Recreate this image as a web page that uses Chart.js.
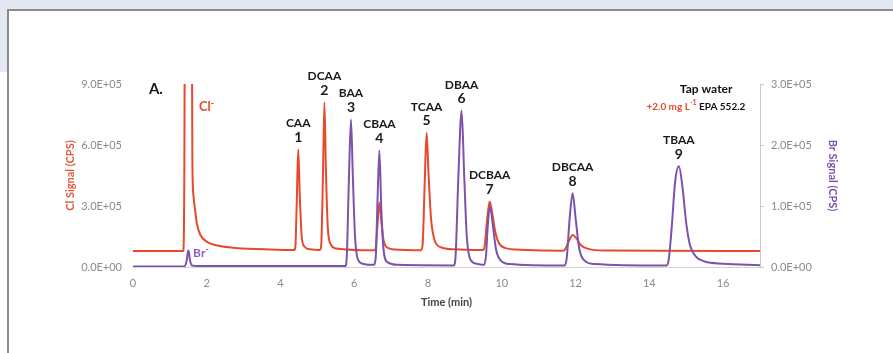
<!DOCTYPE html>
<html>
<head>
<meta charset="utf-8">
<script src="https://cdn.jsdelivr.net/npm/chart.js@4.4.1/dist/chart.umd.min.js"></script>
<style>
  html, body { margin: 0; padding: 0; background: #fff; }
  #wrap { position: relative; width: 893px; height: 353px; overflow: hidden; }
  .bg-top { position: absolute; left: 0; top: 0; width: 893px; height: 10px; background: #e4e8f3; }
  .bg-left { position: absolute; left: 0; top: 0; width: 8px; height: 72px; background: #e4e8f3; }
  .frame { position: absolute; left: 7px; top: 9px; width: 900px; height: 400px;
           border-left: 2px solid #8a8a8a; border-top: 2px solid #8a8a8a; background: #fff; }
  #myChart { position: absolute; left: 0; top: 0; }
</style>
</head>
<body>
<div id="wrap">
  <div class="bg-top"></div>
  <div class="bg-left"></div>
  <div class="frame"></div>
  <canvas id="myChart" width="893" height="353"></canvas>
</div>
<script>
// Cl signal (left axis, CPS)
var clTime = [0, 1.36, 1.39, 1.42, 1.58, 1.61, 1.64, 1.68, 1.73, 1.82, 2.0, 2.36, 2.8, 3.7, 4.36,
    4.4, 4.44, 4.48, 4.52, 4.57, 4.64, 4.8, 5.06,
    5.1, 5.15, 5.19, 5.23, 5.28, 5.36, 5.5, 6.54,
    6.58, 6.63, 6.68, 6.73, 6.79, 6.88, 7.1, 7.8,
    7.85, 7.91, 7.96, 8.01, 8.08, 8.18, 8.35, 8.7, 9.48,
    9.53, 9.6, 9.67, 9.74, 9.82, 9.92, 10.1, 10.5, 11.66,
    11.72, 11.82, 11.92, 12.02, 12.14, 12.35, 12.8, 17];
var clSignal = [79000, 79000, 400000, 2000000, 2000000, 520000, 350000, 285000, 215000, 160000, 125000, 103000, 94000, 86000, 83000,
    95000, 320000, 578000, 360000, 160000, 102000, 87000, 83000,
    100000, 450000, 809000, 480000, 200000, 112000, 91000, 82000,
    92000, 210000, 317000, 230000, 135000, 97000, 86000, 82000,
    105000, 420000, 660000, 470000, 240000, 130000, 97000, 87000, 83000,
    98000, 230000, 322000, 265000, 175000, 118000, 93000, 85000, 80000,
    88000, 128000, 157000, 142000, 108000, 89000, 81000, 79000];

// Br signal (right axis, CPS)
var brTime = [0, 1.4, 1.45, 1.5, 1.55, 1.6, 1.8, 5.76,
    5.8, 5.85, 5.91, 5.96, 6.02, 6.1, 6.25, 6.52,
    6.58, 6.63, 6.68, 6.73, 6.79, 6.9, 7.2, 8.7,
    8.75, 8.82, 8.91, 8.98, 9.05, 9.15, 9.35, 9.52,
    9.57, 9.62, 9.68, 9.75, 9.84, 9.95, 10.2, 11.7,
    11.76, 11.84, 11.92, 12.0, 12.1, 12.25, 12.5, 14.46,
    14.52, 14.6, 14.7, 14.8, 14.9, 15.0, 15.1, 15.25, 15.5, 16.0, 17];
var brSignal = [1000, 1000, 9000, 27500, 10000, 2500, 1500, 1500,
    22000, 135000, 242000, 150000, 50000, 12000, 5000, 3500,
    15000, 110000, 191000, 100000, 30000, 8000, 3500, 2500,
    22000, 145000, 256000, 150000, 50000, 12000, 5000, 3500,
    18000, 68000, 100000, 72000, 30000, 12000, 5000, 2500,
    15000, 80000, 121000, 80000, 30000, 10000, 5000, 2500,
    10000, 60000, 140000, 165000, 130000, 72000, 36000, 18000, 9000, 5500, 3000];

var peakNames = ['CAA', 'DCAA', 'BAA', 'CBAA', 'TCAA', 'DBAA', 'DCBAA', 'DBCAA', 'TBAA'];
var peakNumbers = ['1', '2', '3', '4', '5', '6', '7', '8', '9'];
var peakTimes = [4.48, 5.19, 5.91, 6.68, 7.96, 8.91, 9.67, 11.92, 14.8];

var xTicks = [0, 2, 4, 6, 8, 10, 12, 14, 16];
var clTicks = [0, 300000, 600000, 900000];
var clTickLabels = ['0.0E+00', '3.0E+05', '6.0E+05', '9.0E+05'];
var brTicks = [0, 100000, 200000, 300000];
var brTickLabels = ['0.0E+00', '1.0E+05', '2.0E+05', '3.0E+05'];

var FONT = 'Lato';
var RED = '#e8492e';
var PURPLE = '#7d52ad';

function toPoints(xs, ys) {
    return xs.map(function (x, i) { return { x: x, y: ys[i] }; });
}

// highest pixel of any trace around a retention time
function peakTopPixel(chart, t) {
    var best = Infinity;
    chart.data.datasets.forEach(function (ds) {
        var scale = chart.scales[ds.yAxisID];
        ds.data.forEach(function (p) {
            if (Math.abs(p.x - t) <= 0.06) {
                best = Math.min(best, scale.getPixelForValue(p.y));
            }
        });
    });
    return best;
}

function drawSup(ctx, parts, x, y) {
    // parts: [text, color, size, raise]
    parts.forEach(function (p) {
        ctx.font = 'bold ' + p[2] + 'px ' + FONT;
        ctx.fillStyle = p[1];
        ctx.fillText(p[0], x, y - p[3]);
        x += ctx.measureText(p[0]).width;
    });
}

var labelsPlugin = {
    id: 'peakLabels',
    afterDatasetsDraw: function (chart) {
        var ctx = chart.ctx;
        var xs = chart.scales.x, yl = chart.scales.yCl, yr = chart.scales.yBr;
        ctx.save();
        ctx.textAlign = 'center';
        ctx.textBaseline = 'middle';
        ctx.fillStyle = '#1a1a1a';
        for (var i = 0; i < peakNames.length; i++) {
            var top = peakTopPixel(chart, peakTimes[i]);
            var x = xs.getPixelForValue(peakTimes[i]);
            ctx.font = 'bold 14px ' + FONT;
            ctx.fillText(peakNumbers[i], x, top - 12);
            ctx.font = 'bold 12px ' + FONT;
            ctx.fillText(peakNames[i], x, top - 26);
        }

        // panel letter
        ctx.font = 'bold 15px ' + FONT;
        ctx.fillText('A.', xs.getPixelForValue(0.62), yl.getPixelForValue(875000));

        ctx.textAlign = 'left';
        drawSup(ctx, [['Cl', RED, 13, 0], ['-', RED, 9, 4]], xs.getPixelForValue(1.79), yl.getPixelForValue(787000));
        drawSup(ctx, [['Br', '#8a5fbf', 12, 0], ['-', '#8a5fbf', 9, 4]], xs.getPixelForValue(1.63), yr.getPixelForValue(23000));

        ctx.textAlign = 'center';
        ctx.fillStyle = '#111';
        ctx.font = 'bold 12px ' + FONT;
        ctx.fillText('Tap water', xs.getPixelForValue(15.54), yl.getPixelForValue(875000));

        ctx.textAlign = 'left';
        drawSup(ctx, [['+2.0 mg L', RED, 10, 0], ['-1', RED, 7, 4], [' EPA 552.2', '#111', 10, 0]],
            xs.getPixelForValue(13.92), yl.getPixelForValue(787000));
        ctx.restore();
    }
};

function createChart() {
    var ctx = document.getElementById('myChart').getContext('2d');
    var tickFont = { family: FONT, size: 11 };
    new Chart(ctx, {
        type: 'line',
        data: {
            datasets: [{
                label: 'Cl',
                data: toPoints(clTime, clSignal),
                yAxisID: 'yCl',
                borderColor: RED,
                borderWidth: 2,
                pointRadius: 0,
                cubicInterpolationMode: 'monotone',
                order: 1
            }, {
                label: 'Br',
                data: toPoints(brTime, brSignal),
                yAxisID: 'yBr',
                borderColor: PURPLE,
                borderWidth: 2,
                pointRadius: 0,
                cubicInterpolationMode: 'monotone',
                order: 0
            }]
        },
        options: {
            responsive: false,
            animation: false,
            layout: { padding: { left: 60, right: 53, top: 84, bottom: 40 } },
            plugins: { legend: { display: false }, tooltip: { enabled: false } },
            scales: {
                x: {
                    type: 'linear', min: 0, max: 17,
                    afterBuildTicks: function (s) { s.ticks = xTicks.map(function (v) { return { value: v }; }); },
                    afterFit: function (s) { s.height = 46; },
                    grid: { display: false, drawTicks: false },
                    border: { display: true, color: '#d4d4d4', width: 1 },
                    ticks: { color: '#8a8a8a', font: tickFont, padding: 10 },
                    title: { display: true, text: 'Time (min)', color: '#444',
                        font: { family: FONT, size: 11, weight: 'bold' }, padding: { top: 0, bottom: 4 } }
                },
                yCl: {
                    position: 'left', min: 0, max: 900000,
                    afterBuildTicks: function (s) { s.ticks = clTicks.map(function (v) { return { value: v }; }); },
                    afterFit: function (s) { s.width = 73; },
                    grid: { display: false, drawTicks: false },
                    border: { display: false },
                    ticks: {
                        color: '#8a8a8a', font: tickFont, padding: 11,
                        callback: function (v) { return clTickLabels[clTicks.indexOf(v)]; }
                    },
                    title: { display: true, text: 'Cl Signal (CPS)', color: '#e05536',
                        font: { family: FONT, size: 11, weight: 'bold' }, padding: { top: 4, bottom: 0 } }
                },
                yBr: {
                    position: 'right', min: 0, max: 300000,
                    afterBuildTicks: function (s) { s.ticks = brTicks.map(function (v) { return { value: v }; }); },
                    afterFit: function (s) { s.width = 80; },
                    grid: { display: true, drawOnChartArea: false, drawTicks: true, tickLength: 4, color: '#c8c8c8' },
                    border: { display: true, color: '#c8c8c8', width: 1 },
                    ticks: {
                        color: '#8a8a8a', font: tickFont, padding: 7,
                        callback: function (v) { return brTickLabels[brTicks.indexOf(v)]; }
                    },
                    title: { display: true, text: 'Br Signal (CPS)', color: '#7a4cae',
                        font: { family: FONT, size: 11, weight: 'bold' }, padding: { top: 1, bottom: 0 } }
                }
            }
        },
        plugins: [labelsPlugin]
    });
}

document.addEventListener('DOMContentLoaded', function () {
    createChart();
});
</script>
</body>
</html>
